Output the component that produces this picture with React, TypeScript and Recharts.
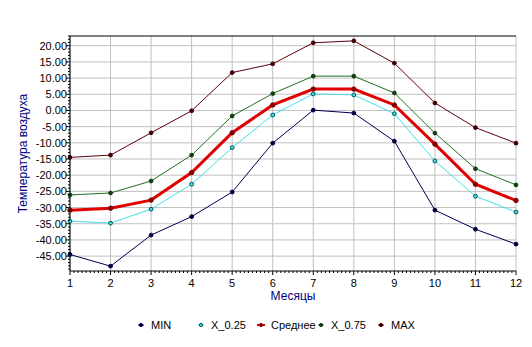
import { CartesianGrid, Line, LineChart, ReferenceLine, XAxis, YAxis } from "recharts";

const FONT = "'Liberation Sans', Arial, sans-serif";

const months = [1, 2, 3, 4, 5, 6, 7, 8, 9, 10, 11, 12];
const minT = [-44.5, -48.1, -38.5, -32.8, -25.2, -10.1, 0.1, -0.8, -9.5, -30.8, -36.7, -41.3];
const q25 = [-34.2, -34.8, -30.5, -22.8, -11.5, -1.4, 5.1, 4.8, -1.0, -15.6, -26.5, -31.4];
const meanT = [-30.8, -30.2, -27.7, -19.2, -6.9, 1.7, 6.6, 6.6, 1.7, -10.4, -22.8, -27.8];
const q75 = [-26.1, -25.5, -21.8, -13.8, -1.7, 5.2, 10.6, 10.6, 5.4, -7.0, -18.0, -23.0];
const maxT = [-14.5, -13.8, -6.9, -0.1, 11.7, 14.4, 20.9, 21.5, 14.6, 2.3, -5.3, -10.1];

const yMajor = [-45, -40, -35, -30, -25, -20, -15, -10, -5, 0, 5, 10, 15, 20];
const yDomain: [number, number] = [-49.6, 23];

// minor ticks: every 1 degree, every 0.1 month
const yTicks = Array.from({ length: 73 }, (_, i) => -49 + i);
const xTicks = Array.from({ length: 111 }, (_, i) => Math.round((1 + i / 10) * 10) / 10);

const series = [
  { key: "min", name: "MIN", color: "#000050", dot: "#000040", dotStroke: "#000040", width: 1 },
  { key: "q25", name: "X_0.25", color: "#40E0E8", dot: "#40E0E8", dotStroke: "#005050", width: 1 },
  { key: "mean", name: "Среднее", color: "#E00000", dot: "#800000", dotStroke: "#800000", width: 3 },
  { key: "q75", name: "X_0.75", color: "#207020", dot: "#104010", dotStroke: "#104010", width: 1 },
  { key: "max", name: "MAX", color: "#600010", dot: "#400000", dotStroke: "#400000", width: 1 },
];

const data = months.map((m, i) => ({
  month: m,
  min: minT[i],
  q25: q25[i],
  mean: meanT[i],
  q75: q75[i],
  max: maxT[i],
}));

function YTick(props: any) {
  const { x, y, payload } = props;
  const v = payload.value as number;
  const major = yMajor.includes(v);
  return (
    <g>
      <line x1={x - (major ? 4 : 2)} x2={x} y1={y} y2={y} stroke="#000" />
      {major && (
        <text x={x - 3} y={y} dy={4} textAnchor="end" fontSize={11} fontFamily={FONT} fill="#000">
          {v.toFixed(2)}
        </text>
      )}
    </g>
  );
}

function XTick(props: any) {
  const { x, y, payload } = props;
  const v = payload.value as number;
  const major = Math.abs(v - Math.round(v)) < 1e-6;
  return (
    <g>
      <line x1={x} x2={x} y1={y} y2={y + (major ? 4 : 2)} stroke="#000" />
      {major && (
        <text x={x} y={y + 16} textAnchor="middle" fontSize={11} fontFamily={FONT} fill="#000">
          {v}
        </text>
      )}
    </g>
  );
}

function makeDot(fill: string, stroke: string, r: number) {
  return (p: any) => (
    <circle key={p.key ?? `${p.cx}-${p.cy}`} cx={p.cx} cy={p.cy} r={r} fill={fill} stroke={stroke} strokeWidth={1} />
  );
}

export default function App() {
  return (
    <div style={{ position: "absolute", left: 0, top: 0, width: 532, height: 347, background: "#fff" }}>
      <LineChart width={532} height={347} data={data} margin={{ top: 36, right: 16, left: 0, bottom: 0 }}>
        <CartesianGrid stroke="#C0C0C0" horizontalValues={yMajor} verticalValues={months} />
        <ReferenceLine y={yDomain[1]} stroke="#000" />
        <XAxis
          dataKey="month"
          type="number"
          domain={[1, 12]}
          ticks={xTicks}
          interval={0}
          height={76}
          tickSize={0}
          tickMargin={0}
          tickLine={false}
          axisLine={{ stroke: "#000" }}
          tick={<XTick />}
          label={{ value: "Месяцы", position: "insideBottom", offset: 47, fill: "#000080", fontSize: 12, fontFamily: FONT }}
        />
        <YAxis
          type="number"
          domain={yDomain}
          ticks={yTicks}
          interval={0}
          width={70}
          tickSize={0}
          tickMargin={0}
          tickLine={false}
          axisLine={{ stroke: "#000" }}
          tick={<YTick />}
          allowDataOverflow
          label={{
            value: "Температура воздуха",
            angle: -90,
            position: "insideLeft",
            offset: 23,
            fill: "#000080",
            fontSize: 12,
            fontFamily: FONT,
            style: { textAnchor: "middle" },
          }}
        />
        {series.map((s) => (
          <Line
            key={s.key}
            dataKey={s.key}
            type="linear"
            stroke={s.color}
            strokeWidth={s.width}
            dot={makeDot(s.dot, s.dotStroke, s.width > 1 ? 2.2 : 1.9)}
            activeDot={false}
            isAnimationActive={false}
          />
        ))}
      </LineChart>
      <div style={{ position: "absolute", left: 0, top: 318, width: 532, height: 16, fontFamily: FONT, fontSize: 11 }}>
        {series.map((s, i) => (
          <div key={s.key} style={{ position: "absolute", left: 134 + 60 * i, top: 0, height: 14, display: "flex", alignItems: "center", whiteSpace: "nowrap" }}>
            <svg width={14} height={14} style={{ display: "block" }}>
              <line x1={s.width > 1 ? 3 : 4} x2={s.width > 1 ? 11 : 10} y1={7} y2={7} stroke={s.color} strokeWidth={s.width > 1 ? 2 : 1} />
              <circle cx={7} cy={7} r={1.6} fill={s.dot} stroke={s.dotStroke} />
            </svg>
            <span style={{ marginLeft: 3, color: "#000" }}>{s.name}</span>
          </div>
        ))}
      </div>
    </div>
  );
}
